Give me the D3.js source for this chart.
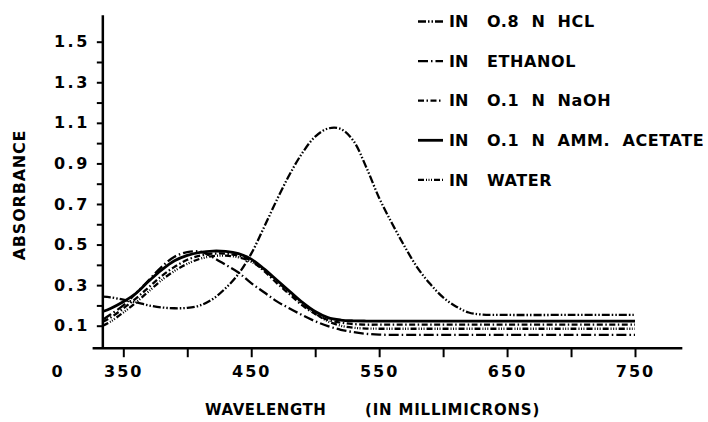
<!DOCTYPE html>
<html>
<head>
<meta charset="utf-8">
<script src="https://cdn.jsdelivr.net/npm/d3@7"></script>
<style>
    body { margin: 0; background: #fff; }
    svg text { font-family: "DejaVu Sans", sans-serif; font-weight: bold; fill: #000; }
    .line { fill: none; stroke: #000; }
</style>
</head>
<body>
<div id="chart"></div>
<script>
// wavelengths (millimicrons) shared by every series
const wavelengths = [334, 340, 350, 360, 370, 380, 390, 400, 410, 420, 430, 440, 450, 460, 470, 480, 490,
    500, 510, 520, 530, 540, 550, 560, 570, 580, 590, 600, 610, 620, 630, 650, 700, 750]

const hcl = [0.243, 0.24, 0.228, 0.215, 0.2, 0.19, 0.186, 0.188, 0.2, 0.232, 0.285, 0.355, 0.455, 0.585, 0.72,
    0.845, 0.952, 1.032, 1.072, 1.07, 1.01, 0.88, 0.73, 0.605, 0.49, 0.385, 0.305, 0.24, 0.195, 0.165, 0.155, 0.153, 0.153, 0.153]
const ethanol = [0.13, 0.155, 0.2, 0.26, 0.325, 0.39, 0.44, 0.463, 0.465, 0.437, 0.4, 0.362, 0.31, 0.265, 0.22,
    0.185, 0.152, 0.122, 0.098, 0.08, 0.068, 0.06, 0.056, 0.055, 0.055, 0.055, 0.055, 0.055, 0.055, 0.055, 0.055, 0.055, 0.055, 0.055]
const naoh = [0.12, 0.14, 0.185, 0.235, 0.29, 0.345, 0.39, 0.425, 0.445, 0.455, 0.455, 0.445, 0.42, 0.37, 0.31,
    0.255, 0.2, 0.158, 0.128, 0.115, 0.108, 0.105, 0.105, 0.105, 0.105, 0.105, 0.105, 0.105, 0.105, 0.105, 0.105, 0.105, 0.105, 0.105]
const ammAcetate = [0.17, 0.185, 0.218, 0.26, 0.32, 0.375, 0.42, 0.447, 0.462, 0.468, 0.466, 0.455, 0.428, 0.38, 0.325,
    0.27, 0.215, 0.17, 0.14, 0.128, 0.124, 0.123, 0.123, 0.123, 0.123, 0.123, 0.123, 0.123, 0.123, 0.123, 0.123, 0.123, 0.123, 0.123]
const water = [0.1, 0.12, 0.165, 0.215, 0.27, 0.325, 0.37, 0.405, 0.43, 0.443, 0.445, 0.437, 0.415, 0.375, 0.32,
    0.262, 0.208, 0.16, 0.122, 0.1, 0.09, 0.086, 0.085, 0.085, 0.085, 0.085, 0.085, 0.085, 0.085, 0.085, 0.085, 0.085, 0.085, 0.085]

const legendLabels = ["O.8 N HCL", "ETHANOL", "O.1 N NaOH", "O.1 N AMM. ACETATE", "WATER"]
const xTicks = [350, 400, 450, 500, 550, 600, 650, 700, 750]
const xTickLabels = [350, 450, 550, 650, 750]
const yTicks = [0.1, 0.2, 0.3, 0.4, 0.5, 0.6, 0.7, 0.8, 0.9, 1.0, 1.1, 1.2, 1.3, 1.4, 1.5]
const yTickLabels = [0.1, 0.3, 0.5, 0.7, 0.9, 1.1, 1.3, 1.5]

const width = 708, height = 422

let svg = d3.select("#chart").append("svg")
    .attr("width", width)
    .attr("height", height)

let xScale = d3.scaleLinear().domain([350, 750]).range([123.3, 635])
let yScale = d3.scaleLinear().domain([0.1, 1.5]).range([325.7, 41.7])

// axis lines run a bit past the data range, like the original drawing
let xAxisY = yScale(-0.011)
let yAxisX = xScale(334)

let xAxis = d3.axisBottom(xScale)
    .tickValues(xTicks)
    .tickSize(9)
    .tickPadding(6)
    .tickFormat(d => xTickLabels.includes(d) ? d : "")

let xg = svg.append("g")
    .attr("transform", `translate(0, ${xAxisY})`)
    .call(xAxis)
xg.select(".domain").remove()
xg.selectAll("line").attr("stroke", "#000").attr("stroke-width", 2)
xg.selectAll("text")
    .style("font-size", "16px")
    .style("letter-spacing", "2px")
    .attr("font-family", null)
    .attr("dy", "0.85em")

svg.append("line")
    .attr("x1", xScale(326)).attr("x2", xScale(787))
    .attr("y1", xAxisY).attr("y2", xAxisY)
    .attr("stroke", "#000").attr("stroke-width", 2.5)

let yAxis = d3.axisLeft(yScale)
    .tickValues(yTicks)
    .tickSize(6)
    .tickPadding(7)
    .tickFormat(d => yTickLabels.some(v => Math.abs(v - d) < 1e-6) ? d3.format(".1f")(d) : "")

let yg = svg.append("g")
    .attr("transform", `translate(${yAxisX}, 0)`)
    .call(yAxis)
yg.select(".domain").remove()
yg.selectAll("line").attr("stroke", "#000").attr("stroke-width", 2)
yg.selectAll("text")
    .style("font-size", "16px")
    .style("letter-spacing", "2.5px")
    .attr("font-family", null)

svg.append("line")
    .attr("x1", yAxisX).attr("x2", yAxisX)
    .attr("y1", yScale(1.63)).attr("y2", xAxisY)
    .attr("stroke", "#000").attr("stroke-width", 2.5)

// the lone origin label, on the same row as the x tick labels
svg.append("text")
    .attr("x", 57)
    .attr("y", xAxisY + 15)
    .attr("dy", "0.85em")
    .attr("text-anchor", "middle")
    .style("font-size", "16px")
    .text("0")

// axis titles
svg.append("text")
    .attr("transform", `translate(25, 195) rotate(-90)`)
    .attr("text-anchor", "middle")
    .style("font-size", "16px")
    .style("letter-spacing", "0.8px")
    .text("ABSORBANCE")

svg.append("text")
    .attr("x", 205).attr("y", 415)
    .style("font-size", "15px")
    .style("letter-spacing", "0.6px")
    .text("WAVELENGTH")
svg.append("text")
    .attr("x", 365).attr("y", 415)
    .style("font-size", "15px")
    .style("letter-spacing", "0.8px")
    .text("(IN MILLIMICRONS)")

// series + their dash styles
let series = [
    {name: legendLabels[0], values: hcl, dash: "8 2 1.5 2 1.5 2", w: 2.3},
    {name: legendLabels[1], values: ethanol, dash: "10 3 1.5 3", w: 2.3},
    {name: legendLabels[2], values: naoh, dash: "6 2.5 1.5 2.5", w: 2.3},
    {name: legendLabels[3], values: ammAcetate, dash: null, w: 2.8},
    {name: legendLabels[4], values: water, dash: "6 2 1 1.5 1 1.5 1 2", w: 2.3}
]

var line = d3.line()
    .x((d, i) => xScale(wavelengths[i]))
    .y(d => yScale(d))
    .curve(d3.curveCatmullRom.alpha(0.5))

svg.selectAll(".series").data(series)
    .join("path")
    .attr("class", "line series")
    .attr("d", d => line(d.values))
    .attr("stroke-width", d => d.w)
    .attr("stroke-dasharray", d => d.dash)

// legend, top right
let legend = svg.selectAll(".legend").data(series)
    .join("g")
    .attr("class", "legend")
    .attr("transform", (d, i) => `translate(418, ${21.5 + i * 39.6})`)

legend.append("line")
    .attr("x1", 0).attr("x2", 25)
    .attr("y1", 0).attr("y2", 0)
    .attr("stroke", "#000")
    .attr("stroke-width", d => d.w)
    .attr("stroke-dasharray", d => d.dash)

legend.append("text")
    .attr("x", 31)
    .attr("dy", "0.36em")
    .style("font-size", "16px")
    .text("IN")

legend.append("text")
    .attr("x", 69)
    .attr("dy", "0.36em")
    .style("font-size", "16px")
    .style("letter-spacing", "0.6px")
    .style("word-spacing", "6px")
    .text(d => d.name)
</script>
</body>
</html>
